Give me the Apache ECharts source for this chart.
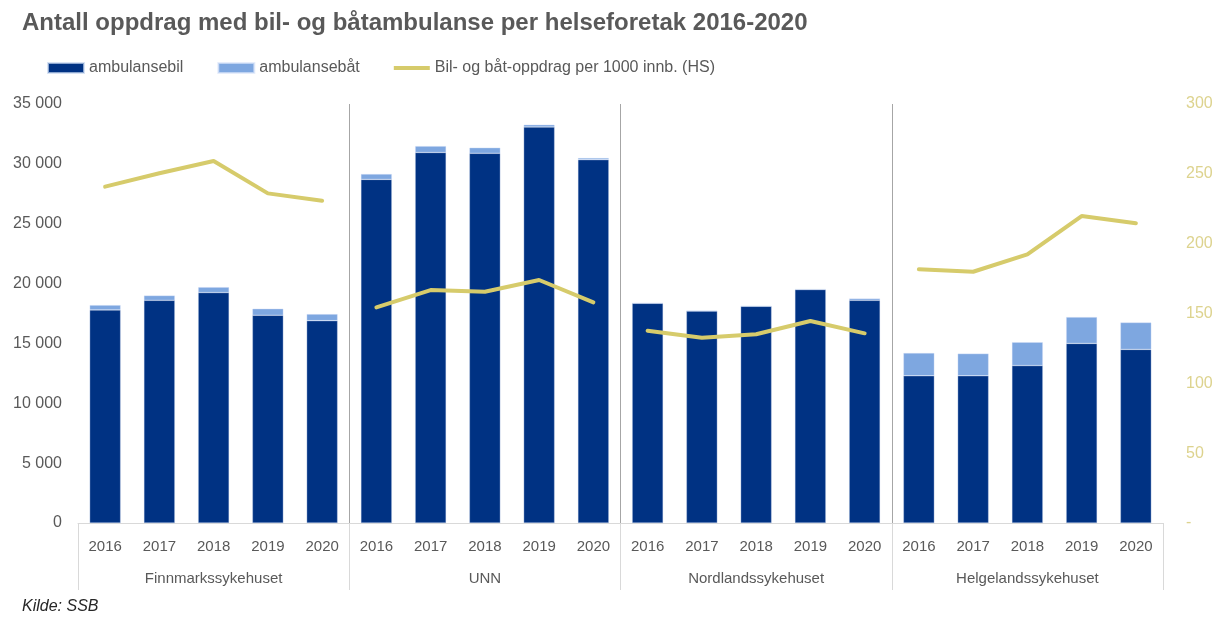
<!DOCTYPE html>
<html>
<head>
<meta charset="utf-8">
<script src="https://cdn.jsdelivr.net/npm/echarts@6/dist/echarts.min.js"></script>
<style>
  html, body { margin: 0; padding: 0; background: #fff; }
  #chart { width: 1216px; height: 617px; }
</style>
</head>
<body>
<div id="chart"></div>
<script>
var groups = ['Finnmarkssykehuset', 'UNN', 'Nordlandssykehuset', 'Helgelandssykehuset']
var years = ['2016', '2017', '2018', '2019', '2020']

// per group, 2016-2020
var ambulansebil = [
  [17800, 18600, 19250, 17350, 16900],
  [28700, 30950, 30880, 33080, 30350],
  [18350, 17700, 18100, 19500, 18600],
  [12300, 12300, 13150, 15000, 14500]
]
var ambulansebat = [
  [400, 400, 450, 550, 550],
  [450, 530, 470, 190, 140],
  [30, 50, 30, 30, 150],
  [1900, 1850, 1950, 2200, 2250]
]
// Bil- og båt-oppdrag per 1000 innb. (right axis)
var perThousand = [
  [240.8, 250.4, 259.2, 236.0, 230.8],
  [154.4, 166.8, 165.6, 174.0, 158.0],
  [137.7, 132.7, 135.1, 144.6, 135.8],
  [181.6, 179.9, 192.4, 219.8, 214.6]
]

var lineName = 'Bil- og båt-oppdrag per 1000 innb. (HS)'
var txt = '#595959'
var font = 'Liberation Sans'

var categories = []
groups.forEach(function (g) {
  years.forEach(function (y) { categories.push(g + '|' + y) })
})
function flat(arr) {
  return arr.reduce(function (a, b) { return a.concat(b) }, [])
}
// one line per group so the line breaks between groups
var lineSeries = perThousand.map(function (vals, gi) {
  var data = categories.map(function () { return null })
  vals.forEach(function (v, yi) { data[gi * years.length + yi] = v })
  return {
    name: lineName,
    type: 'line',
    yAxisIndex: 1,
    symbol: 'none',
    lineStyle: { width: 4, color: '#D6CB6B', cap: 'round' },
    itemStyle: { color: '#D6CB6B' },
    z: 5,
    data: data
  }
})

var chart = echarts.init(document.getElementById('chart'))
chart.setOption({
  animation: false,
  backgroundColor: '#fff',
  textStyle: { fontFamily: font },
  title: {
    text: 'Antall oppdrag med bil- og båtambulanse per helseforetak 2016-2020',
    left: 17,
    top: 6,
    textStyle: { fontFamily: font, fontSize: 24, fontWeight: 'bold', color: txt }
  },
  legend: {
    left: 42,
    top: 55,
    itemGap: 34,
    itemWidth: 36,
    itemHeight: 10,
    textStyle: { fontFamily: font, fontSize: 16, color: txt },
    data: [
      { name: 'ambulansebil', icon: 'rect' },
      { name: 'ambulansebåt', icon: 'rect' },
      { name: lineName, icon: 'path://M0 0h36v4h-36z', itemStyle: { color: '#D6CB6B' } }
    ]
  },
  grid: { left: 78, right: 53, top: 104, bottom: 94 },
  xAxis: [{
    type: 'category',
    data: categories,
    position: 'bottom',
    axisLine: { lineStyle: { color: '#d9d9d9', width: 1 } },
    axisTick: { show: false },
    axisLabel: {
      interval: 0,
      margin: 16,
      fontSize: 15,
      color: txt,
      formatter: function (v) { return v.split('|')[1] }
    }
  }, {
    type: 'category',
    data: groups,
    position: 'bottom',
    axisLine: { show: false },
    axisTick: { show: true, length: 67, lineStyle: { color: '#d9d9d9' } },
    axisLabel: { interval: 0, margin: 48, fontSize: 15, color: txt },
    splitLine: {
      show: true,
      showMinLine: false,
      showMaxLine: false,
      lineStyle: { color: '#a6a6a6', width: 1 }
    }
  }],
  yAxis: [{
    type: 'value',
    min: 0,
    max: 35000,
    interval: 5000,
    axisLine: { show: false },
    axisTick: { show: false },
    splitLine: { show: false },
    axisLabel: {
      margin: 16,
      fontSize: 16,
      color: txt,
      formatter: function (v) {
        return String(v).replace(/\B(?=(\d{3})+(?!\d))/g, ' ')
      }
    }
  }, {
    type: 'value',
    min: 0,
    max: 300,
    interval: 50,
    position: 'right',
    axisLine: { show: false },
    axisTick: { show: false },
    splitLine: { show: false },
    axisLabel: {
      margin: 23,
      fontSize: 16,
      color: '#DDD38E',
      formatter: function (v) { return v === 0 ? '-' : v }
    }
  }],
  series: [{
    name: 'ambulansebil',
    type: 'bar',
    stack: 'total',
    barWidth: '57%',
    itemStyle: { color: '#003283', borderColor: 'rgba(200,215,240,0.7)', borderWidth: 0.5 },
    data: flat(ambulansebil)
  }, {
    name: 'ambulansebåt',
    type: 'bar',
    stack: 'total',
    barWidth: '57%',
    itemStyle: { color: '#7EA7E0', borderColor: 'rgba(220,230,250,0.7)', borderWidth: 0.5 },
    data: flat(ambulansebat)
  }].concat(lineSeries),
  graphic: [{
    type: 'text',
    left: 22,
    top: 599,
    style: { text: 'Kilde: SSB', font: 'italic 16px "Liberation Sans"', fill: '#262626' }
  }]
})
</script>
</body>
</html>
